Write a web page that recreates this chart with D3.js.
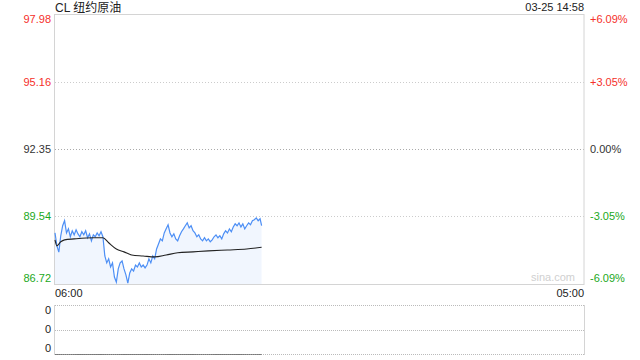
<!DOCTYPE html>
<html><head><meta charset="utf-8">
<script src="https://cdn.jsdelivr.net/npm/d3@7"></script>
<style>
body{margin:0;background:#fff;}
svg text{font-family:"Liberation Sans",Arial,"Noto Sans CJK SC",sans-serif;}
</style></head>
<body><svg id="c" width="640" height="360"></svg>
<script>
const title = "CL 纽约原油";
const stamp = "03-25 14:58";
const prevClose = 92.35;
const priceTicks = [97.98, 95.16, 92.35, 89.54, 86.72];
const pctTicks = ["+6.09%", "+3.05%", "0.00%", "-3.05%", "-6.09%"];
const timeLabels = ["06:00", "05:00"];
const volTicks = ["0", "0", "0"];
// minutes after 06:00, step 5
const priceMinutes = d3.range(0, 540, 5).concat([539]);
const priceValues = [88.85,88.31,88.05,88.73,89.15,89.36,88.85,89.02,88.69,88.94,88.77,88.98,88.81,88.69,88.90,88.77,88.94,88.65,88.81,88.52,88.77,88.69,88.85,88.73,88.90,88.69,87.89,87.60,87.77,87.43,87.60,87.01,86.80,87.35,87.60,87.68,87.35,87.10,86.76,87.18,87.35,87.26,87.51,87.43,87.60,87.43,87.51,87.39,87.51,87.77,87.60,87.89,87.77,88.18,88.39,88.60,88.52,88.85,89.02,89.19,88.85,88.69,88.81,88.60,88.52,88.73,88.90,89.02,89.15,89.27,89.06,89.15,88.94,88.85,88.69,88.77,88.60,88.52,88.65,88.52,88.60,88.48,88.56,88.69,88.77,88.65,88.73,88.60,88.81,88.94,88.85,89.02,88.90,89.10,89.23,89.15,89.27,89.10,89.23,89.02,89.15,89.27,89.19,89.36,89.40,89.48,89.36,89.44,89.15];
const avgMinutes = [0,5,15,25,50,100,125,140,160,180,200,230,260,290,320,360,400,450,500,539];
const avgValues = [88.56,88.31,88.48,88.56,88.60,88.65,88.65,88.44,88.18,88.06,87.93,87.89,87.85,87.93,88.02,88.06,88.10,88.14,88.18,88.25];
const volValues = priceMinutes.map(()=>0);

const svg = d3.select("#c");
const L = 55, R = 584, T = 14, B = 284, VT = 305, VB = 354;
const x = d3.scaleLinear().domain([0, 1380]).range([L, R]);
const y = d3.scaleLinear().domain([86.72, 97.98]).range([B, T]);
const vy = d3.scaleLinear().domain([0, 1]).range([VB, VT]);
const colorOf = v => v > prevClose ? "#f5302a" : (v < prevClose ? "#1ba81b" : "#333");

// grid
svg.append("g").selectAll("line").data(priceTicks.slice(1, 4)).join("line")
  .attr("x1", L).attr("x2", R).attr("y1", d => Math.round(y(d)) + 0.5).attr("y2", d => Math.round(y(d)) + 0.5)
  .attr("stroke", (d) => d === prevClose ? "#aaa" : "#ccc").attr("stroke-dasharray", "1,2");
// main frame
svg.append("rect").attr("x", L - 0.5).attr("y", T + 0.5).attr("width", R - L + 0.5).attr("height", B - T)
  .attr("fill", "none").attr("stroke", "#d4d4d4");

// area + lines
const pts = priceMinutes.map((m, i) => [m, priceValues[i]]);
svg.append("path").datum(pts)
  .attr("d", d3.area().x(d => x(d[0])).y0(B).y1(d => y(d[1])))
  .attr("fill", "#eef4fe").attr("opacity", 0.8);
svg.append("path").datum(pts)
  .attr("d", d3.line().x(d => x(d[0])).y(d => y(d[1])))
  .attr("fill", "none").attr("stroke", "#4d8ff5").attr("stroke-width", 1.2);
const apts = avgMinutes.map((m, i) => [m, avgValues[i]]);
svg.append("path").datum(apts)
  .attr("d", d3.line().curve(d3.curveMonotoneX).x(d => x(d[0])).y(d => y(d[1])))
  .attr("fill", "none").attr("stroke", "#222").attr("stroke-width", 1.1);

// left labels
const n = priceTicks.length;
svg.append("g").selectAll("text").data(priceTicks).join("text")
  .attr("x", 51).attr("y", (d, i) => i === 0 ? y(d) + 9 : (i === n - 1 ? y(d) - 2 : y(d) + 4))
  .attr("text-anchor", "end").attr("font-size", 11).attr("fill", d => colorOf(d))
  .text(d => d.toFixed(2));
svg.append("g").selectAll("text").data(pctTicks).join("text")
  .attr("x", 590).attr("y", (d, i) => i === 0 ? y(priceTicks[i]) + 9 : (i === n - 1 ? y(priceTicks[i]) - 2 : y(priceTicks[i]) + 4))
  .attr("font-size", 11).attr("fill", (d, i) => colorOf(priceTicks[i]))
  .text(d => d);

// header
svg.append("text").attr("x", 55).attr("y", 12).attr("font-size", 12).attr("fill", "#222").text(title);
svg.append("text").attr("x", 584).attr("y", 11).attr("text-anchor", "end").attr("font-size", 11).attr("fill", "#222").text(stamp);
// watermark
svg.append("text").attr("x", 575).attr("y", 281).attr("text-anchor", "end").attr("font-size", 11).attr("fill", "#d0d0d0").text("sina.com");
// time labels
svg.append("text").attr("x", 55).attr("y", 297).attr("font-size", 11).attr("fill", "#222").text(timeLabels[0]);
svg.append("text").attr("x", 584).attr("y", 297).attr("text-anchor", "end").attr("font-size", 11).attr("fill", "#222").text(timeLabels[1]);

// volume panel
svg.append("g").selectAll("line").data([VT, (VT + VB) / 2]).join("line")
  .attr("x1", L).attr("x2", R).attr("y1", d => Math.round(d) + 0.5).attr("y2", d => Math.round(d) + 0.5)
  .attr("stroke", "#bbb").attr("stroke-dasharray", "1,1");
svg.append("line").attr("x1", L).attr("x2", R).attr("y1", VB + 0.5).attr("y2", VB + 0.5).attr("stroke", "#bbb").attr("stroke-dasharray", "1,1");
svg.append("line").attr("x1", L - 0.5).attr("x2", L - 0.5).attr("y1", VT).attr("y2", VB + 1).attr("stroke", "#d4d4d4");
svg.append("line").attr("x1", R + 0.5).attr("x2", R + 0.5).attr("y1", VT).attr("y2", VB + 1).attr("stroke", "#d4d4d4");
svg.append("path").datum(priceMinutes.map((m, i) => [m, volValues[i]]))
  .attr("d", d3.line().x(d => x(d[0])).y(d => vy(d[1]) + 0.5))
  .attr("fill", "none").attr("stroke", "#777").attr("stroke-width", 1);
svg.append("g").selectAll("text").data(volTicks).join("text")
  .attr("x", 51).attr("y", (d, i) => [314, 333, 352][i])
  .attr("text-anchor", "end").attr("font-size", 11).attr("fill", "#222").text(d => d);
</script></body></html>
